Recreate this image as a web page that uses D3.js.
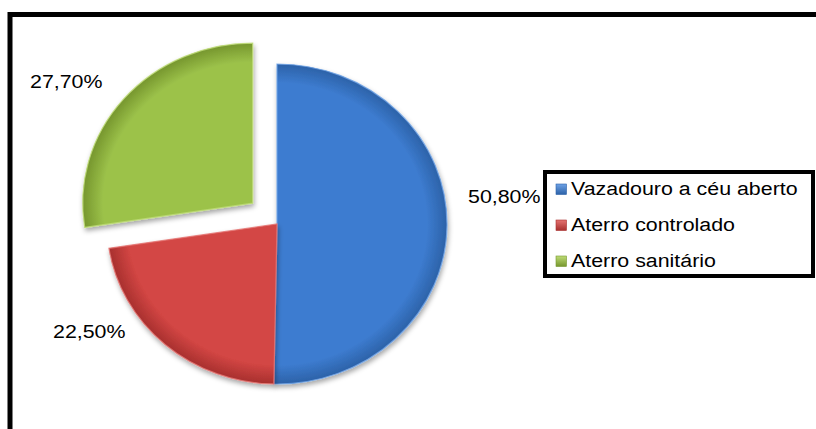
<!DOCTYPE html>
<html><head><meta charset="utf-8">
<script src="https://cdn.jsdelivr.net/npm/d3@7"></script>
<style>body{margin:0;background:#fff}svg{display:block}text{font-family:"Liberation Sans",Arial,sans-serif}</style>
</head><body>
<script>
const categories = ["Vazadouro a céu aberto", "Aterro controlado", "Aterro sanitário"];
const values = [50.8, 22.5, 27.7];
const labels = ["50,80%", "22,50%", "27,70%"];
const colors = ["#3d7cd0", "#d34644", "#9cc24a"];
const darkColors = ["#2c62a8", "#a8302e", "#76962e"];
const lightColors = ["#6ea2e6", "#e57371", "#bedc76"];

const W = 816, H = 429;
const svg = d3.select("body").append("svg").attr("width", W).attr("height", H);
const defs = svg.append("defs");

const f = defs.append("filter").attr("id","sh").attr("x","-20%").attr("y","-20%").attr("width","140%").attr("height","140%");
f.append("feDropShadow").attr("dx",1).attr("dy",3).attr("stdDeviation",2.5).attr("flood-color","#000").attr("flood-opacity",0.35);

colors.forEach((c,i)=>{
  const g = defs.append("radialGradient").attr("id","g"+i).attr("gradientUnits","userSpaceOnUse")
    .attr("cx",0).attr("cy",0).attr("r",160);
  g.append("stop").attr("offset","0%").attr("stop-color",c);
  g.append("stop").attr("offset","88%").attr("stop-color",c);
  g.append("stop").attr("offset","100%").attr("stop-color",darkColors[i]);
  const lg = defs.append("linearGradient").attr("id","lg"+i).attr("x1",0).attr("y1",0).attr("x2",0).attr("y2",1);
  lg.append("stop").attr("offset","0%").attr("stop-color",lightColors[i]);
  lg.append("stop").attr("offset","100%").attr("stop-color",darkColors[i]);
});

// outer frame
svg.append("rect").attr("x",10).attr("y",14.5).attr("width",900).attr("height",600)
  .attr("fill","none").attr("stroke","#000").attr("stroke-width",5);

const cx = 277, cy = 224, R = 160, sx = 170/160;
const explode = [0, 0, 32];

const pie = d3.pie().sort(null).value(d=>d)(values);
const arc = d3.arc().innerRadius(0).outerRadius(R);

const pg = svg.append("g").attr("transform",`translate(${cx},${cy}) scale(${sx},1)`);
pg.selectAll("path").data(pie).join("path")
  .attr("d", arc)
  .attr("transform", (d,i)=>{
    const a = (d.startAngle+d.endAngle)/2;
    return `translate(${Math.sin(a)*explode[i]/sx},${-Math.cos(a)*explode[i]})`;
  })
  .attr("fill",(d,i)=>`url(#g${i})`)
  .attr("stroke",(d,i)=>lightColors[i]).attr("stroke-width",1.2).attr("stroke-opacity",0.8)
  .attr("filter","url(#sh)");

// data labels
const labelPos = [[468,203],[53,338],[30,88]];
const tscale = 1.15;
svg.selectAll("text.lbl").data(labels).join("text").attr("class","lbl")
  .attr("transform",(d,i)=>`translate(${labelPos[i][0]},${labelPos[i][1]}) scale(${tscale},1)`)
  .attr("font-size",18.6).attr("fill","#000").text(d=>d);

// legend
svg.append("rect").attr("x",545).attr("y",172).attr("width",268).attr("height",104)
  .attr("fill","#fff").attr("stroke","#000").attr("stroke-width",4);
const lgG = svg.append("g");
categories.forEach((c,i)=>{
  const y = 195 + i*36;
  lgG.append("rect").attr("x",556).attr("y",y-11).attr("width",10.5).attr("height",10.5)
    .attr("fill",`url(#lg${i})`).attr("stroke",darkColors[i]).attr("stroke-width",0.6);
  lgG.append("text").attr("transform",`translate(571,${y}) scale(${tscale},1)`)
    .attr("font-size",18.6).attr("fill","#000").text(c);
});
</script>
</body></html>
